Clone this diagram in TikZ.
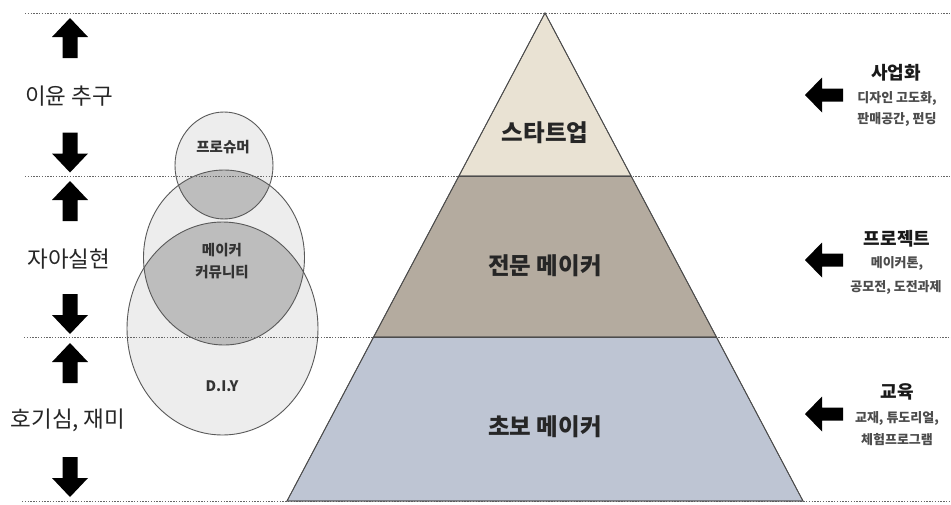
\documentclass[tikz,border=0pt]{standalone}
\usepackage{fontspec}
\setmainfont{Noto Sans CJK KR}
\begin{document}
\begin{tikzpicture}[x=1pt,y=-1pt,
  dotline/.style={draw=black!60, line width=1pt, dash pattern=on 1.4pt off 1.4pt},
  layer/.style={draw=black!70, line width=0.8pt},
  ring/.style={draw=black!65, line width=0.9pt},
  lab/.style={font=\fontsize{22.5}{22.5}\selectfont, text=black!85},
  ptxt/.style={font=\bfseries\fontsize{23.5}{23.5}\selectfont, text=black!85},
  ctxt/.style={font=\bfseries\fontsize{14.5}{22}\selectfont, text=black!80, align=center},
  head/.style={font=\bfseries\fontsize{18}{18}\selectfont, text=black!90},
  sub/.style={font=\bfseries\fontsize{13}{13}\selectfont, text=black!70},
  uparr/.pic={\fill[black] (0,-20) -- (18,-1) -- (7.5,-1) -- (7.5,20) -- (-7.5,20) -- (-7.5,-1) -- (-18,-1) -- cycle;},
  downarr/.pic={\fill[black] (0,20) -- (18,1) -- (7.5,1) -- (7.5,-20) -- (-7.5,-20) -- (-7.5,1) -- (-18,1) -- cycle;},
  leftarr/.pic={\fill[black] (-19,0) -- (-2,-17.5) -- (-2,-6.5) -- (19,-6.5) -- (19,6.5) -- (-2,6.5) -- (-2,17.5) -- cycle;}
]
\useasboundingbox (0,0) rectangle (951,504);
\fill[white] (0,0) rectangle (951,504);

% circles
\fill[black!7] (222.5,328.5) ellipse [x radius=95.5, y radius=106.5];
\fill[black!7] (224,257.5) ellipse [x radius=80.5, y radius=87.5];
\fill[black!7] (224,165.5) ellipse [x radius=49, y radius=53.5];
\begin{scope}
  \clip (224,165.5) ellipse [x radius=49, y radius=53.5];
  \fill[black!26] (224,257.5) ellipse [x radius=80.5, y radius=87.5];
\end{scope}
\begin{scope}
  \clip (224,257.5) ellipse [x radius=80.5, y radius=87.5];
  \fill[black!26] (222.5,328.5) ellipse [x radius=95.5, y radius=106.5];
\end{scope}
\draw[ring] (222.5,328.5) ellipse [x radius=95.5, y radius=106.5];
\draw[ring] (224,257.5) ellipse [x radius=80.5, y radius=87.5];
\draw[ring] (224,165.5) ellipse [x radius=49, y radius=53.5];

% dotted lines
\coordinate (d1a) at (25,13);  \coordinate (d1b) at (951,13);
\coordinate (d2a) at (25,176); \coordinate (d2b) at (951,176);
\coordinate (d3a) at (24,337); \coordinate (d3b) at (951,337);
\coordinate (d4a) at (22,501); \coordinate (d4b) at (951,501);
\draw[dotline] (d1a) -- (d1b);
\draw[dotline] (d2a) -- (d2b);
\draw[dotline] (d3a) -- (d3b);
\draw[dotline] (d4a) -- (d4b);

% pyramid
\fill[layer, fill={rgb,255:red,233;green,226;blue,211}] (545,13) -- (631,176) -- (459,176) -- cycle;
\fill[layer, fill={rgb,255:red,180;green,171;blue,159}] (459,176) -- (631,176) -- (716.5,337) -- (373.5,337) -- cycle;
\fill[layer, fill={rgb,255:red,190;green,197;blue,211}] (373.5,337) -- (716.5,337) -- (803,501) -- (287,501) -- cycle;
\draw[layer] (545,13) -- (803,501) -- (287,501) -- cycle;
\draw[layer] (459,176) -- (631,176);
\draw[layer] (373.5,337) -- (716.5,337);

\node[ptxt] (p1) at (545,133) {스타트업};
\node[ptxt] (p2) at (545,266) {전문 메이커};
\node[ptxt] (p3) at (545,427) {초보 메이커};

% circle texts
\node[ctxt] (c1) at (223,147) {프로슈머};
\node[ctxt] (c2) at (222,261) {메이커\\커뮤니티};
\node[ctxt] (c3) at (222,386) {D.I.Y};

% left labels and arrows
\node[lab] (l1) at (69,96) {이윤 추구};
\node[lab] (l2) at (69,259) {자아실현};
\node[lab] (l3) at (68,420) {호기심, 재미};
\pic at (70,38) {uparr};
\pic at (70,152.5) {downarr};
\pic at (70,201) {uparr};
\pic at (70,314) {downarr};
\pic at (70,363) {uparr};
\pic at (70,477) {downarr};

% right side
\pic at (824,95) {leftarr};
\pic at (824,260) {leftarr};
\pic at (824,414) {leftarr};
\node[head] (r1) at (896,73) {사업화};
\node[sub] (r1a) at (897,98) {디자인 고도화,};
\node[sub] (r1b) at (897,119) {판매공간, 펀딩};
\node[head] (r2) at (897,239) {프로젝트};
\node[sub] (r2a) at (897,263) {메이커톤,};
\node[sub] (r2b) at (896,287) {공모전, 도전과제};
\node[head] (r3) at (897,392) {교육};
\node[sub] (r3a) at (897,418) {교재, 튜도리얼,};
\node[sub] (r3b) at (897,440) {체험프로그램};
\end{tikzpicture}
\end{document}
